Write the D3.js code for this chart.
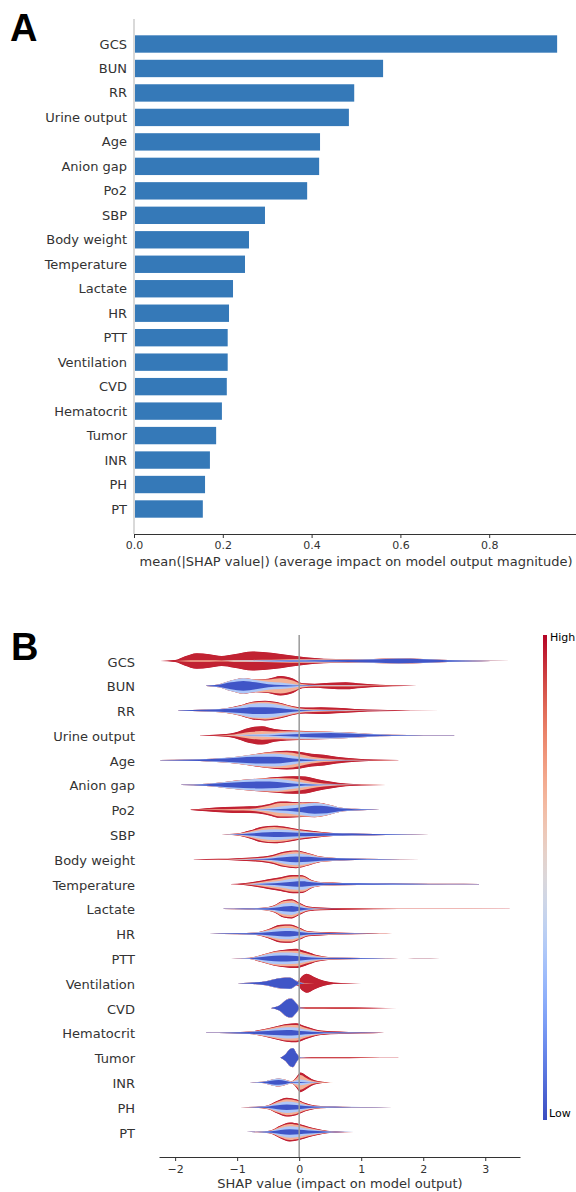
<!DOCTYPE html>
<html>
<head>
<meta charset="utf-8">
<script src="https://cdn.jsdelivr.net/npm/d3@7"></script>
<style>
    body { margin: 0; background: #ffffff; }
    svg { display: block; font-family: "DejaVu Sans", sans-serif; }
</style>
</head>
<body>
<svg id="chart-svg" width="576" height="1192"></svg>
<script>
// Features, top to bottom (same order in both panels)
const features = ["GCS", "BUN", "RR", "Urine output", "Age", "Anion gap", "Po2", "SBP",
    "Body weight", "Temperature", "Lactate", "HR", "PTT", "Ventilation", "CVD",
    "Hematocrit", "Tumor", "INR", "PH", "PT"];

// Panel A: mean(|SHAP value|)
const meanAbsShap = [0.953, 0.561, 0.496, 0.484, 0.419, 0.417, 0.390, 0.295, 0.259, 0.250,
    0.223, 0.214, 0.211, 0.211, 0.209, 0.198, 0.185, 0.171, 0.160, 0.155];
const barTicks = [0, 0.2, 0.4, 0.6, 0.8];
const shapTicks = [-2, -1, 0, 1, 2, 3];

// Panel B: layered violins
// each knot: [SHAP value, low, mid-low, mid-high, high] = half thickness of each feature-value layer
const knotsGCS = [[-2.24,0,0,0,0.1],[-2.0,0,0,0.1,0.9],[-1.85,0,0,0.5,4],[-1.65,0,0,0.8,7.2],[-1.45,0,0,0.7,6.3],
    [-1.25,0,0.1,0.5,4.6],[-1.05,0,0.3,0.6,6],[-0.75,0.1,0.4,0.6,8.7],[-0.45,0.2,0.5,0.6,7.2],[-0.15,0.4,0.6,0.7,4.1],
    [0.1,0.6,0.6,0.7,1.8],[0.4,0.8,0.5,0.4,0.6],[0.8,1.0,0.4,0.2,0.2],[1.2,1.5,0.4,0.1,0.1],[1.6,2.2,0.4,0.1,0],
    [2.0,1.8,0.3,0,0],[2.4,0.8,0.2,0,0],[2.8,0.3,0.1,0,0],[3.56,0.03,0.02,0,0]];
const knotsBUN = [[-1.5,0.15,0,0,0],[-1.3,1,0.4,0,0],[-1.1,3.5,1.8,0,0],[-0.9,5,2.8,0.2,0],[-0.7,3.5,2.5,0.4,0.1],
    [-0.5,1.5,2.5,2.5,0.8],[-0.3,0.8,2.5,4.5,2.2],[-0.1,0.4,1.5,3.5,2],[0.05,0.2,0.5,1,0.8],[0.25,0.1,0.2,0.5,1.2],
    [0.5,0,0.2,0.6,2.2],[0.75,0,0.2,0.6,2.8],[1.0,0,0.1,0.4,1.8],[1.3,0,0.05,0.2,0.8],[1.7,0,0,0.05,0.2],[2.1,0,0,0.02,0.02]];
const knotsRR = [[-1.95,0.15,0,0,0],[-1.5,0.8,0.2,0,0],[-1.2,1.5,0.5,0.1,0.1],[-0.95,2.5,2,0.5,0.4],[-0.75,3.5,3.5,1.2,0.8],
    [-0.55,3.5,4,1.5,1],[-0.3,2.5,3,1.4,0.9],[-0.1,1.2,1.5,1,0.7],[0.1,0.4,0.5,0.8,1.4],[0.35,0.2,0.3,0.7,2.3],
    [0.6,0.1,0.2,0.5,2],[0.9,0,0.1,0.3,1.2],[1.3,0,0.05,0.15,0.6],[1.8,0,0,0.03,0.12],[2.75,0,0,0,0.02]];
const knotsUrine = [[-1.6,0,0,0,0.15],[-1.3,0,0,0.2,0.6],[-1.05,0,0.2,0.8,1.6],[-0.8,0.1,0.8,2.5,4.5],[-0.6,0.2,1.2,3,5],
    [-0.4,0.5,1.5,2,2.5],[-0.2,1,2,1.2,1],[0,1.5,2,0.8,0.5],[0.2,2,1.5,0.4,0.2],[0.5,2.5,1,0.2,0.1],
    [0.8,2,0.7,0.1,0],[1.1,1.2,0.4,0,0],[1.5,0.5,0.2,0,0],[2.0,0.15,0.05,0,0],[2.5,0.02,0.01,0,0]];
const knotsAge = [[-2.24,0.08,0,0,0],[-1.8,0.5,0.1,0,0],[-1.4,1.2,0.3,0,0],[-1.0,2.5,1,0.1,0],[-0.7,3.5,2.2,0.5,0.2],
    [-0.4,3.5,3,1.5,0.8],[-0.2,2.5,3,2.5,1.5],[0,1.2,2,3,2.5],[0.2,0.5,1,2,3],[0.4,0.2,0.5,1.3,3.5],
    [0.6,0.1,0.2,0.7,2.5],[0.9,0,0.1,0.3,1.3],[1.2,0,0,0.1,0.5],[1.6,0,0,0.03,0.08]];
const knotsAnion = [[-1.9,0.08,0,0,0],[-1.5,0.8,0.3,0,0],[-1.2,2,1,0,0],[-0.9,3,2,0.2,0],[-0.6,3.5,2.5,0.5,0.2],
    [-0.35,3,3,1.2,0.8],[-0.1,1.5,2.5,2.5,2.5],[0.1,0.6,1.5,2.5,4],[0.3,0.2,0.6,1.5,3.5],[0.5,0.1,0.3,0.8,2.3],
    [0.75,0,0.1,0.3,1],[1.0,0,0,0.1,0.4],[1.4,0,0,0,0.03]];
const knotsPo2 = [[-1.75,0,0,0,0.15],[-1.5,0,0,0.3,1.2],[-1.2,0,0,0.5,2.2],[-0.9,0,0.1,0.8,2.5],[-0.7,0.1,0.3,1.2,2],
    [-0.5,0.3,1.2,2.5,1.5],[-0.3,0.8,2.5,3.5,1.5],[-0.1,1.5,3,2.5,1],[0.05,2.5,3,1.5,0.5],[0.25,4,2.8,0.6,0.2],
    [0.45,3.5,1.8,0.2,0],[0.65,1.5,0.8,0,0],[0.9,0.6,0.3,0,0],[1.3,0.06,0.03,0,0]];
const knotsSBP = [[-1.25,0.04,0,0,0.04],[-1.0,0.3,0.2,0.2,0.3],[-0.8,1,1,1,1],[-0.6,2,2.5,2,1.5],[-0.4,2.5,3,2.2,1.3],
    [-0.2,2.3,2.5,1.7,1.2],[0,1.8,1.5,1,1],[0.2,1.5,0.8,0.6,1],[0.4,1.2,0.4,0.2,0.5],[0.7,1,0.2,0,0.1],
    [1.0,0.8,0.1,0,0],[1.4,0.4,0.1,0,0],[2.1,0.03,0.01,0,0]];
const knotsWeight = [[-1.7,0,0,0,0.08],[-1.3,0,0,0.1,0.4],[-1.0,0,0.1,0.3,0.8],[-0.7,0.2,0.3,0.5,1.2],[-0.45,0.8,1,1.2,1.2],
    [-0.25,2,2.5,2,1.2],[-0.05,3,3,2,1],[0.15,2.5,2,1.2,0.6],[0.35,1.5,0.7,0.4,0.2],[0.6,1,0.3,0.1,0],
    [0.9,0.6,0.2,0,0],[1.3,0.3,0.1,0,0],[1.95,0.03,0,0,0]];
const knotsTemp = [[-1.1,0,0,0,0.08],[-0.9,0,0,0.2,0.6],[-0.7,0.2,0.4,0.8,1.2],[-0.5,0.7,1.2,1.5,1.5],[-0.3,1.5,2,2,1.6],
    [-0.1,2.5,3,2.3,1.5],[0.05,2.8,3,2,1.2],[0.2,1.8,1.2,0.7,0.5],[0.4,1,0.4,0.2,0.2],[0.7,0.8,0.3,0.1,0.05],
    [1.2,0.6,0.3,0.1,0],[1.8,0.4,0.2,0,0],[2.4,0.15,0.1,0,0],[2.9,0.03,0.03,0,0]];
const knotsLactate = [[-1.22,0.04,0,0,0],[-0.9,0.3,0.1,0,0],[-0.6,0.6,0.3,0.1,0.05],[-0.4,1.2,1.2,0.8,0.5],[-0.25,2.5,3,2.2,1.2],
    [-0.12,3,3.2,2.3,1.3],[0,1.8,2,1.5,1],[0.15,0.5,0.5,0.6,0.8],[0.35,0.1,0.1,0.3,0.9],[0.7,0,0,0.2,0.6],
    [1.2,0,0,0.1,0.35],[2.0,0,0,0.03,0.12],[3.4,0,0,0,0.02]];
const knotsHR = [[-1.45,0.04,0,0,0],[-1.0,0.4,0.1,0,0],[-0.7,0.8,0.3,0.1,0.05],[-0.5,1.5,1.5,1,0.6],[-0.3,2.5,3,2.2,1.3],
    [-0.15,2.8,3,2.2,1.3],[0,1.8,2,1.5,1],[0.15,0.8,0.6,0.5,0.6],[0.35,0.6,0.3,0.3,0.6],[0.6,0.4,0.2,0.2,0.4],
    [0.9,0.2,0.1,0.1,0.2],[1.3,0.04,0.02,0.02,0.04],[1.5,0,0,0,0.02]];
const knotsPTT = [[-1.1,0.04,0,0,0],[-0.8,0.3,0.2,0.1,0.05],[-0.6,1.5,1.5,0.6,0.3],[-0.4,2.8,2.8,1.2,0.6],[-0.2,3,3,2,1.2],
    [-0.05,2.5,3,2.5,1.8],[0.1,1.5,2,2,1.8],[0.3,0.8,0.8,0.8,0.8],[0.5,0.6,0.3,0.2,0.2],[0.8,0.5,0.2,0.05,0],
    [1.2,0.3,0.1,0,0],[1.6,0.04,0.02,0,0],[1.75,0,0,0,0],[1.95,0.08,0.04,0,0],[2.27,0.03,0,0,0]];
const knotsVent = [[-1.0,0.05,0,0,0],[-0.8,0.6,0,0,0],[-0.55,1.8,0.1,0,0],[-0.3,5,0.3,0,0],[-0.15,5.5,0.3,0,0],
    [-0.03,1.5,0.2,0,0.5],[0.05,0.2,0,0.3,7],[0.12,0,0,0.2,9.5],[0.25,0,0,0.1,6],[0.4,0,0,0.05,2.5],
    [0.55,0,0,0,0.8],[0.8,0,0,0,0.15],[1.0,0,0,0,0.02]];
const knotsCVD = [[-0.45,0.1,0,0,0],[-0.32,2.5,0,0,0],[-0.2,8.5,0.3,0,0],[-0.13,9.5,0.4,0,0],[-0.05,5,0.3,0,0],
    [0.02,0.3,0.1,0.2,0.4],[0.2,0,0,0.2,0.6],[0.6,0,0,0.2,0.7],[1.0,0,0,0.1,0.5],[1.4,0,0,0.03,0.15],[1.75,0,0,0,0.02]];
const knotsHct = [[-1.5,0.04,0,0,0],[-1.1,0.3,0.1,0,0],[-0.8,0.8,0.3,0.1,0.05],[-0.6,1.5,1,0.5,0.3],[-0.4,2.3,2,1.2,0.8],
    [-0.2,2.8,3,2,1.3],[-0.05,2.5,3,2.5,1.7],[0.1,1.5,1.8,1.8,1.5],[0.3,0.8,0.6,0.6,0.8],[0.5,0.5,0.2,0.2,0.6],
    [0.8,0.3,0.1,0.1,0.4],[1.2,0.1,0,0.05,0.15],[1.55,0,0,0,0.02]];
const knotsTumor = [[-0.3,0.1,0,0,0],[-0.22,3.5,0,0,0],[-0.15,8.5,0.3,0,0],[-0.1,9.5,0.4,0,0],[-0.04,4,0.3,0,0],
    [0.02,0.2,0.1,0.1,0.3],[0.2,0,0,0.1,0.5],[0.6,0,0,0.1,0.6],[1.0,0,0,0.05,0.4],[1.3,0,0,0,0.15],[1.6,0,0,0,0.02]];
const knotsINR = [[-0.8,0.04,0,0,0],[-0.6,0.4,0.2,0,0],[-0.45,1.8,1,0,0],[-0.33,2.5,1.5,0.1,0],[-0.22,1.5,1,0.1,0],
    [-0.12,0.4,0.4,0.2,0.1],[-0.05,0.4,1.5,2,1],[0.02,0.5,2.5,4.5,2.5],[0.1,0.3,1.8,3,2.5],[0.2,0.1,0.6,1.2,1.6],
    [0.3,0,0.2,0.4,0.8],[0.45,0,0,0.1,0.2],[0.55,0,0,0,0.02]];
const knotsPH = [[-0.95,0.04,0,0,0],[-0.7,0.3,0.1,0.05,0.05],[-0.5,0.8,0.6,0.4,0.3],[-0.35,2,2,1.5,1],[-0.2,2.8,3,2.3,1.5],
    [-0.05,2.3,2.5,2,1.3],[0.1,1.2,1.2,1,0.8],[0.25,0.6,0.4,0.3,0.4],[0.45,0.4,0.2,0.1,0.2],[0.7,0.3,0.1,0.05,0.05],
    [1.0,0.15,0.05,0,0],[1.5,0.02,0,0,0]];
const knotsPT = [[-0.85,0.04,0,0,0],[-0.6,0.3,0.1,0.05,0.05],[-0.45,0.7,0.5,0.4,0.3],[-0.3,2,2,1.6,1],[-0.15,2.8,3,2.3,1.5],
    [0,2.3,2.5,2,1.4],[0.15,1.6,1.5,1.2,1],[0.3,1,0.7,0.6,0.7],[0.45,0.5,0.2,0.2,0.5],[0.6,0.2,0.05,0.05,0.3],[0.88,0.02,0,0,0.02]];

const violinKnots = [knotsGCS, knotsBUN, knotsRR, knotsUrine, knotsAge, knotsAnion, knotsPo2, knotsSBP,
    knotsWeight, knotsTemp, knotsLactate, knotsHR, knotsPTT, knotsVent, knotsCVD, knotsHct, knotsTumor,
    knotsINR, knotsPH, knotsPT];

// matplotlib "coolwarm" colormap
const coolwarm = d3.interpolateRgbBasis(["#3b4cc0", "#6282ea", "#8db0fe", "#b8d0f9", "#dddddd",
    "#f5c4ac", "#f49a7b", "#dd604d", "#b40426"]);
const layerColors = [0.02, 0.35, 0.68, 0.96].map(coolwarm);

const svg = d3.select('#chart-svg');
const defs = svg.append("defs");

const textColor = "#333333";

// Style an axis group like matplotlib
function styleAxis(g) {
    g.select(".domain").attr("stroke", textColor).attr("stroke-width", 1);
    g.selectAll(".tick line").attr("stroke", textColor);
    g.selectAll(".tick text").attr("fill", textColor).attr("font-size", 11)
        .attr("font-family", '"DejaVu Sans", sans-serif');
}

// ---------------- Panel A ----------------
svg.append("text").attr("x", 10).attr("y", 41)
    .attr("font-family", '"Liberation Sans", Arial, sans-serif').attr("font-weight", "bold")
    .attr("font-size", 38).attr("fill", "#000").text("A");

const xA = d3.scaleLinear().domain([0, 1]).range([134, 578]);
const yA = d3.scalePoint().domain(features).range([44, 509]);
const barH = yA.step() * 0.71;

svg.append("line")
    .attr("x1", xA(0)).attr("x2", xA(0)).attr("y1", 19).attr("y2", 534)
    .attr("stroke", "#cccccc").attr("stroke-width", 1.5);

svg.append("g").selectAll("rect").data(features).join("rect")
    .attr("x", xA(0) + 1)
    .attr("y", d => yA(d) - barH / 2)
    .attr("width", (d, i) => xA(meanAbsShap[i]) - xA(0) - 1)
    .attr("height", barH)
    .attr("fill", "#3579b8");

svg.append("g").selectAll("text").data(features).join("text")
    .attr("x", 127).attr("y", d => yA(d))
    .attr("text-anchor", "end").attr("dominant-baseline", "central")
    .attr("font-size", 13).attr("fill", textColor)
    .text(d => d);

svg.append("g")
    .attr("transform", "translate(0,534)")
    .call(d3.axisBottom(xA).tickValues(barTicks).tickFormat(d3.format(".1f")).tickSize(4).tickSizeOuter(0).tickPadding(3))
    .call(styleAxis);

svg.append("text").attr("x", 356).attr("y", 566).attr("text-anchor", "middle")
    .attr("font-size", 13).attr("fill", textColor)
    .text("mean(|SHAP value|) (average impact on model output magnitude)");

// ---------------- Panel B ----------------
svg.append("text").attr("x", 11).attr("y", 660)
    .attr("font-family", '"Liberation Sans", Arial, sans-serif').attr("font-weight", "bold")
    .attr("font-size", 38).attr("fill", "#000").text("B");

const xB = d3.scaleLinear().domain([-2.26, 3.56]).range([159, 520]);
const yB = d3.scalePoint().domain(features).range([661, 1132]);
const wB = d3.scaleLinear().domain([0, 10]).range([0, 9.8]);

const soft = defs.append("filter").attr("id", "soft")
    .attr("x", "-5%").attr("y", "-30%").attr("width", "110%").attr("height", "160%");
soft.append("feGaussianBlur").attr("stdDeviation", 0.75);

const violins = svg.append("g");
violinKnots.forEach((knots, i) => {
    const cy = yB(features[i]);
    // cumulative thickness: low layer in the middle, high layer on the rim
    const cum = knots.map(k => Array.from(d3.cumsum(k.slice(1))));
    const areaFor = j => d3.area()
        .curve(d3.curveMonotoneX)
        .x((d, n) => xB(knots[n][0]))
        .y0(d => cy - wB(d[j]))
        .y1(d => cy + wB(d[j]));

    defs.append("clipPath").attr("id", "vclip" + i)
        .append("path").attr("d", areaFor(3)(cum));

    const sharp = violins.append("g");
    const blurred = violins.append("g").attr("clip-path", `url(#vclip${i})`)
        .append("g").attr("filter", "url(#soft)");
    for (let j = 3; j >= 0; j--) {
        sharp.append("path").attr("d", areaFor(j)(cum)).attr("fill", layerColors[j]);
        blurred.append("path").attr("d", areaFor(j)(cum)).attr("fill", layerColors[j]);
    }
});

// zero line
svg.append("line")
    .attr("x1", xB(0)).attr("x2", xB(0)).attr("y1", 635).attr("y2", 1157)
    .attr("stroke", "#999999").attr("stroke-width", 1.5);

svg.append("g").selectAll("text").data(features).join("text")
    .attr("x", 135).attr("y", d => yB(d) + 1)
    .attr("text-anchor", "end").attr("dominant-baseline", "central")
    .attr("font-size", 13).attr("fill", textColor)
    .text(d => d);

svg.append("g")
    .attr("transform", "translate(0,1157)")
    .call(d3.axisBottom(xB).tickValues(shapTicks).tickFormat(d3.format("d")).tickSize(4).tickSizeOuter(0).tickPadding(4))
    .call(styleAxis);

svg.append("text").attr("x", 340).attr("y", 1188).attr("text-anchor", "middle")
    .attr("font-size", 13).attr("fill", textColor)
    .text("SHAP value (impact on model output)");

// colour bar
const grad = defs.append("linearGradient").attr("id", "cbar")
    .attr("x1", 0).attr("y1", 1).attr("x2", 0).attr("y2", 0);
grad.selectAll("stop").data(d3.range(0, 1.0001, 0.05)).join("stop")
    .attr("offset", d => d).attr("stop-color", d => coolwarm(d));

svg.append("rect").attr("x", 543).attr("y", 635).attr("width", 4).attr("height", 485)
    .attr("fill", "url(#cbar)");

svg.append("text").attr("x", 550).attr("y", 637).attr("dominant-baseline", "central")
    .attr("font-size", 11).attr("fill", "#000").text("High");
svg.append("text").attr("x", 549).attr("y", 1113).attr("dominant-baseline", "central")
    .attr("font-size", 11).attr("fill", "#000").text("Low");
</script>
</body>
</html>
